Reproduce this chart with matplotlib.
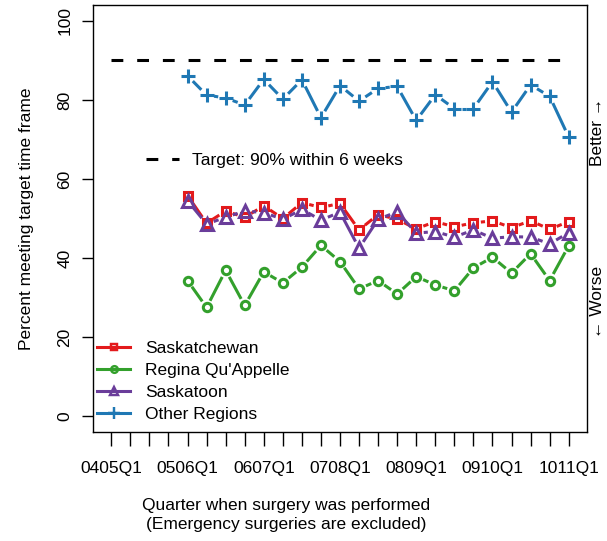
import numpy as np
import matplotlib
matplotlib.use("Agg")
import matplotlib.pyplot as plt
from matplotlib.lines import Line2D

quarters = ["0405Q1", "0405Q2", "0405Q3", "0405Q4",
            "0506Q1", "0506Q2", "0506Q3", "0506Q4",
            "0607Q1", "0607Q2", "0607Q3", "0607Q4",
            "0708Q1", "0708Q2", "0708Q3", "0708Q4",
            "0809Q1", "0809Q2", "0809Q3", "0809Q4",
            "0910Q1", "0910Q2", "0910Q3", "0910Q4",
            "1011Q1"]
first_data = "0506Q1"
target = 90

saskatchewan = [55.8, 48.8, 51.9, 50.3, 53.2, 50.0, 54.0, 52.8, 53.8, 47.1, 51.0,
                49.8, 47.4, 49.2, 47.9, 48.9, 49.4, 47.7, 49.4, 47.3, 49.2]
regina = [34.3, 27.5, 36.9, 28.0, 36.5, 33.7, 37.7, 43.2, 39.1, 32.2, 34.3,
          30.9, 35.3, 33.2, 31.7, 37.5, 40.2, 36.2, 41.1, 34.3, 43.1]
saskatoon = [54.5, 48.6, 50.3, 51.9, 51.5, 49.8, 52.3, 49.6, 51.6, 42.5, 49.8,
             51.7, 46.3, 46.7, 45.3, 47.1, 45.0, 45.4, 45.3, 43.6, 46.4]
other = [86.1, 81.2, 80.5, 78.7, 85.2, 80.2, 85.1, 75.5, 83.6, 79.7, 82.9,
         83.4, 74.8, 81.3, 77.8, 77.8, 84.6, 76.9, 83.8, 80.9, 70.6]

series = [
    ("Saskatchewan", saskatchewan, "#E31A1C", "s", 6),
    ("Regina Qu'Appelle", regina, "#33A02C", "o", 6),
    ("Saskatoon", saskatoon, "#6A3D9A", "^", 8),
    ("Other Regions", other, "#1F78B4", "+", 10.5),
]

LW = 2.2


def gapped_line(ax, x, y, color, gap=7.5):
    # R type="b": segments stop short of each point
    pts = ax.transData.transform(np.column_stack([x, y]))
    inv = ax.transData.inverted()
    for p0, p1 in zip(pts[:-1], pts[1:]):
        d = p1 - p0
        n = np.hypot(*d)
        if n <= 2 * gap:
            continue
        u = d / n
        a, b = inv.transform([p0 + u * gap, p1 - u * gap])
        ax.plot([a[0], b[0]], [a[1], b[1]], color=color, lw=LW,
                solid_capstyle="butt")


def main():
    plt.rcParams['font.family'] = ["Liberation Sans", "DejaVu Sans"]
    plt.rcParams['font.size'] = 12.5
    plt.rcParams['lines.scale_dashes'] = False

    fig = plt.figure(figsize=(6.07, 5.41), dpi=100)
    ax = fig.add_axes([93 / 607, 109 / 541, 494 / 607, 427 / 541])

    xs_all = np.arange(len(quarters))
    start = quarters.index(first_data)
    x = xs_all[start:]

    ax.set_xlim(-0.96, len(quarters) - 1 + 0.96)
    ax.set_ylim(-4, 104)

    ax.plot([xs_all[0], xs_all[-1]], [target, target], color="black", lw=LW,
            linestyle=(0, (8.5, 10)), solid_capstyle="butt")

    handles = []
    for name, vals, col, mk, ms in series:
        gapped_line(ax, x, vals, col)
        ax.plot(x, vals, linestyle="none", marker=mk, markersize=ms,
                markerfacecolor="none", markeredgecolor=col, markeredgewidth=LW)
        handles.append(Line2D([], [], color=col, lw=LW, marker=mk,
                              markersize=ms * 0.8, markerfacecolor="none",
                              markeredgecolor=col, markeredgewidth=LW * 0.8))

    ax.set_xticks(xs_all)
    ax.set_xticklabels([q if i % 4 == 0 else "" for i, q in enumerate(quarters)])
    ax.set_yticks([0, 20, 40, 60, 80, 100])
    for lab in ax.get_yticklabels():
        lab.set_rotation(90)
        lab.set_va("center")
    ax.tick_params(axis="x", length=10, width=1, pad=11)
    ax.tick_params(axis="y", length=8, width=1, pad=7)
    for sp in ax.spines.values():
        sp.set_linewidth(1)

    ax.set_ylabel("Percent meeting target time frame", labelpad=17)
    fig.text(286 / 607, 26 / 541,
             "Quarter when surgery was performed\n(Emergency surgeries are excluded)",
             ha="center", va="center", linespacing=1.3)

    tleg = ax.legend([Line2D([], [], color="black", lw=LW, linestyle=(0, (8.5, 10)))],
                     ["Target: 90% within 6 weeks"], loc="upper left",
                     bbox_to_anchor=(0.094, 0.67), frameon=False, handlelength=1.9,
                     handletextpad=0.75, borderaxespad=0)
    ax.add_artist(tleg)
    ax.legend(handles, [s[0] for s in series], loc="lower left",
              bbox_to_anchor=(-0.012, 0.0), frameon=False, handlelength=1.9,
              handletextpad=0.85, labelspacing=0.38, borderaxespad=0.2)

    ax.text(1.022, 72, "Better \u2192", rotation=90, ha="center", va="center",
            transform=ax.get_yaxis_transform())
    ax.text(1.022, 29, "\u2190 Worse", rotation=90, ha="center", va="center",
            transform=ax.get_yaxis_transform())

    fig.savefig("out.png", dpi=100)


if __name__ == "__main__":
    main()
